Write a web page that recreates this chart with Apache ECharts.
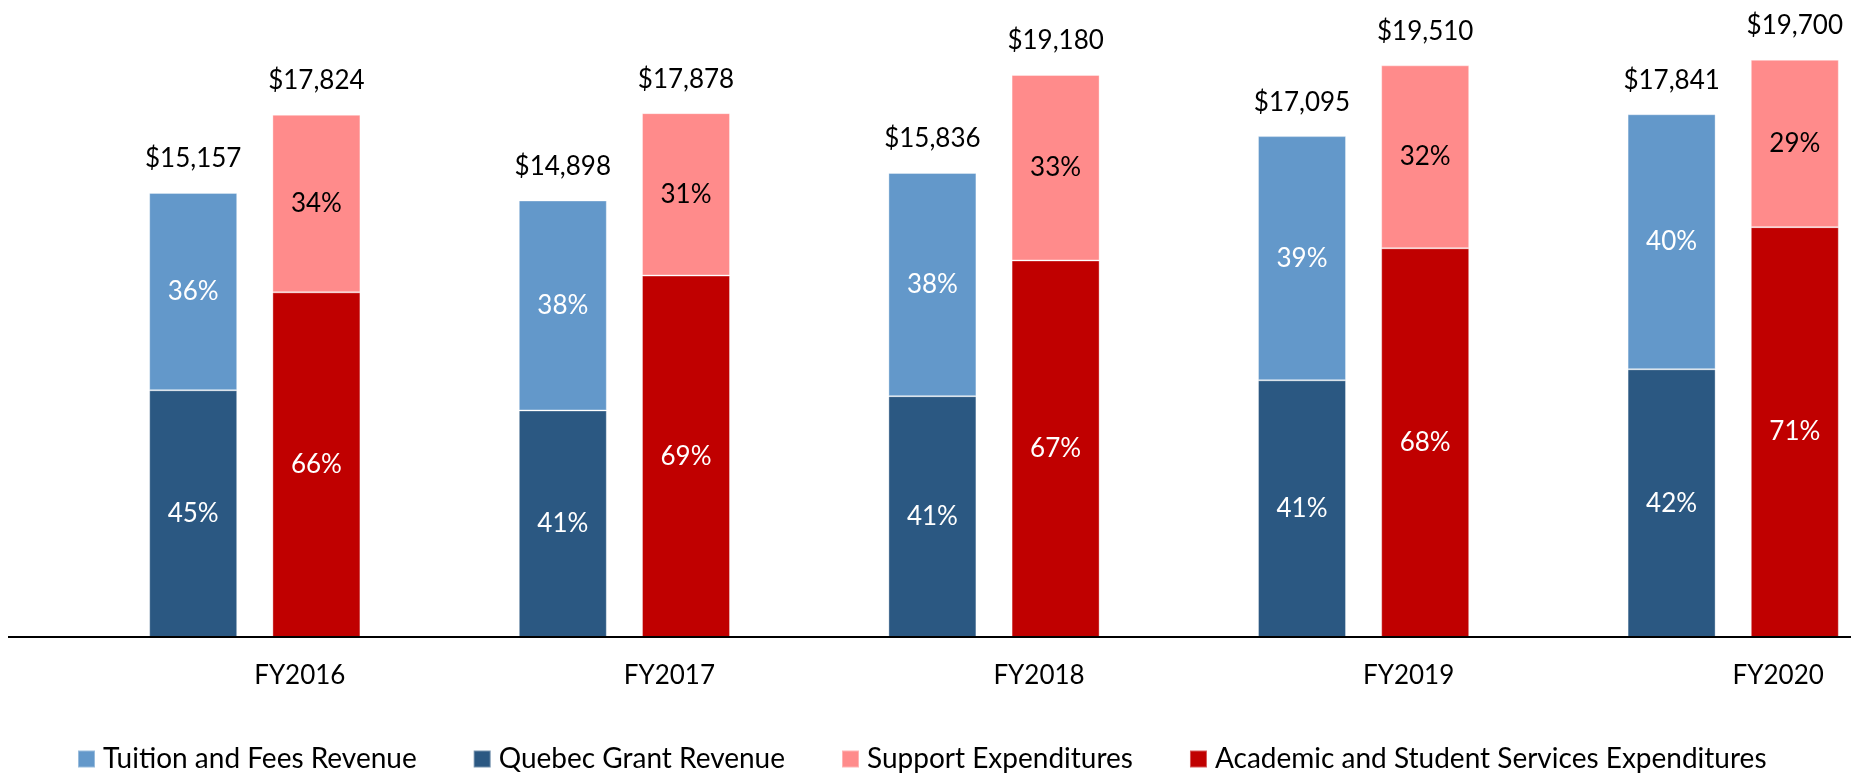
<!DOCTYPE html>
<html><head><meta charset="utf-8">
<script src="https://cdn.jsdelivr.net/npm/echarts@6/dist/echarts.min.js"></script>
<style>html,body{margin:0;padding:0;background:#fff;overflow:hidden;width:1851px;height:778px}#c{width:1918px;height:778px}</style>
</head><body><div id="c"></div>
<script>
// ---- data ----
const categories = ['FY2016', 'FY2017', 'FY2018', 'FY2019', 'FY2020'];
// revenue stack (bottom -> top)
const quebecGrant = [8421, 7732, 8219, 8761, 9138];
const tuitionFees = [6736, 7166, 7617, 8334, 8703];
const quebecPct = ['45%', '41%', '41%', '41%', '42%'];
const tuitionPct = ['36%', '38%', '38%', '39%', '40%'];
const revenueTotals = [15157, 14898, 15836, 17095, 17841];
// expenditure stack (bottom -> top)
const academicExp = [11764, 12336, 12851, 13267, 13987];
const supportExp = [6060, 5542, 6329, 6243, 5713];
const academicPct = ['66%', '69%', '67%', '68%', '71%'];
const supportPct = ['34%', '31%', '33%', '32%', '29%'];
const expenditureTotals = [17824, 17878, 19180, 19510, 19700];
const totalAnchor = [0, 0, 0, 0, 0];

const FONT = 'Lato';
const FS = 26;
const C = { tuition: '#6398CA', quebec: '#2B5882', support: '#FF8B8B', academic: '#C00000' };

function segment(name, data, color, pct, textColor, stack) {
  return {
    name, type: 'bar', stack, stackStrategy: 'all', data,
    barWidth: 88, barGap: '40%',
    itemStyle: { color, borderColor: 'rgba(255,255,255,0.35)', borderWidth: 1 },
    label: {
      show: true, position: 'inside', color: textColor,
      fontFamily: FONT, fontSize: FS, lineHeight: FS,
      formatter: p => pct[p.dataIndex]
    },
    emphasis: { disabled: true }
  };
}
function totals(name, totalsArr, stack) {
  return {
    name, type: 'bar', stack, stackStrategy: 'all', data: totalAnchor,
    barWidth: 88, barGap: '40%',
    itemStyle: { color: 'transparent' },
    label: {
      show: true, position: 'top', distance: 21, color: '#000',
      fontFamily: FONT, fontSize: FS, lineHeight: FS,
      formatter: p => '$' + totalsArr[p.dataIndex].toLocaleString('en-US')
    },
    emphasis: { disabled: true }
  };
}

const chart = echarts.init(document.getElementById('c'));
chart.setOption({
  animation: false,
  backgroundColor: '#fff',
  grid: { left: 70, right: 0, top: 51, bottom: 141, containLabel: false },
  legend: {
    data: ['Tuition and Fees Revenue', 'Quebec Grant Revenue', 'Support Expenditures', 'Academic and Student Services Expenditures'],
    left: 72, top: 740,
    icon: 'rect', itemWidth: 17, itemHeight: 17, itemGap: 56,
    textStyle: { fontFamily: FONT, fontSize: 28, lineHeight: 28, color: '#000', padding: [0, 0, 0, 3] },
    selectedMode: false
  },
  xAxis: {
    type: 'category', data: categories,
    axisLine: { show: false }, axisTick: { show: false },
    axisLabel: { color: '#000', fontFamily: FONT, fontSize: FS, lineHeight: FS, margin: 26, padding: [0, 0, 0, 90] }
  },
  yAxis: { type: 'value', min: 0, max: 20000, show: false, splitLine: { show: false } },
  series: [
    segment('Quebec Grant Revenue', quebecGrant, C.quebec, quebecPct, '#fff', 'rev'),
    segment('Tuition and Fees Revenue', tuitionFees, C.tuition, tuitionPct, '#fff', 'rev'),
    totals('revTotal', revenueTotals, 'rev'),
    segment('Academic and Student Services Expenditures', academicExp, C.academic, academicPct, '#fff', 'exp'),
    segment('Support Expenditures', supportExp, C.support, supportPct, '#000', 'exp'),
    totals('expTotal', expenditureTotals, 'exp')
  ]
});
const y0 = chart.convertToPixel({ yAxisIndex: 0 }, 0);
chart.setOption({
  graphic: [{
    type: 'line', silent: true, z: 10,
    shape: { x1: 8, y1: y0, x2: 1851, y2: y0 },
    style: { stroke: '#000', lineWidth: 2 }
  }]
});
</script></body></html>
